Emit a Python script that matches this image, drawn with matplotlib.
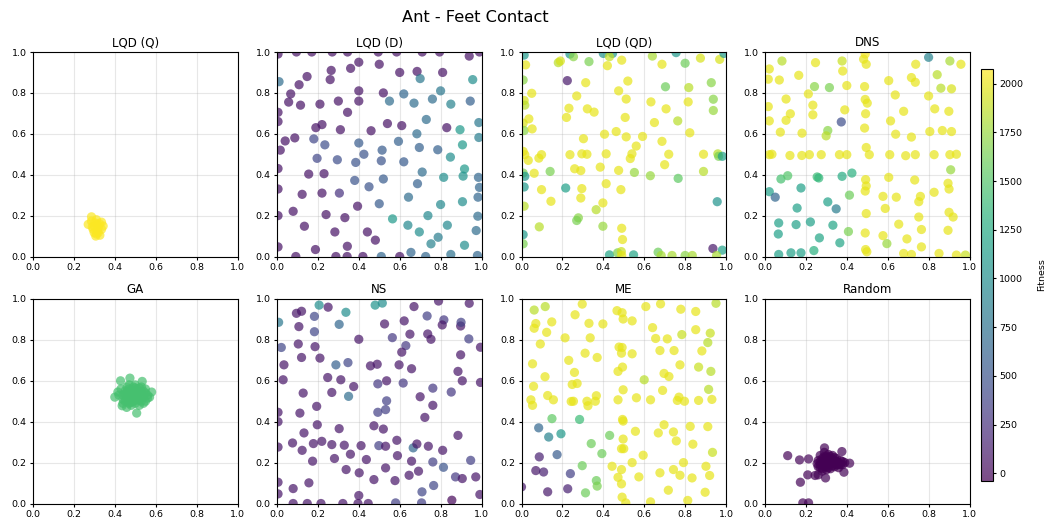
import numpy as np
import matplotlib
matplotlib.use('Agg')
import matplotlib.pyplot as plt
from matplotlib.colors import Normalize

# ── Data: (x, y, fitness) per method ─────────────────────────────────
lqd_q = [(.286, .194, 2060), (.31, .18, 2060), (.335, .168, 2060), (.27, .157, 2060),
         (.294, .133, 2060), (.319, .117, 2060), (.307, .10, 2060), (.327, .104, 2060),
         (.343, .149, 2060), (.302, .165, 2060), (.319, .141, 2060), (.299, .117, 2060),
         (.286, .173, 2060), (.335, .133, 2060), (.314, .157, 2060), (.30, .15, 2060),
         (.315, .125, 2060), (.29, .145, 2060), (.325, .16, 2060), (.31, .11, 2060)]

lqd_d = [(.005, .99, 60), (.095, 1.0, 60), (.17, 1.0, 60), (.27, 1.0, 60), (.345, 1.0, 60),
         (.495, 1.0, 60), (.585, 1.0, 60), (.71, 1.0, 60), (.795, 1.0, 60), (.94, .98, 60),
         (.99, 1.0, 60), (.40, .95, 60), (.50, .94, 60), (.36, .92, 60), (.265, .91, 60),
         (.60, .90, 60), (.685, .905, 60), (.81, .90, 60), (.01, .855, 700), (.147, .88, 60),
         (.26, .865, 60), (.70, .87, 800), (.957, .865, 1000), (.108, .84, 60), (.40, .81, 60),
         (.52, .80, 60), (.62, .795, 650), (.80, .81, 800), (.067, .795, 60), (.057, .755, 60),
         (.115, .74, 60), (.21, .745, 60), (.30, .76, 60), (.40, .76, 60), (.55, .76, 700),
         (.67, .75, 700), (.76, .77, 700), (.85, .745, 900), (.945, .76, 600), (.005, .705, 60),
         (.345, .705, 60), (.005, .66, 60), (.73, .67, 700), (.987, .655, 800), (.19, .63, 60),
         (.22, .645, 60), (.31, .62, 60), (.46, .615, 60), (.54, .65, 60), (.61, .64, 60),
         (.83, .63, 60), (.895, .62, 1100), (.04, .565, 60), (.087, .58, 60), (.18, .575, 400),
         (.016, .52, 60), (.234, .546, 450), (.40, .555, 550), (.594, .563, 600), (.684, .60, 700),
         (.987, .582, 850), (.425, .50, 500), (.514, .52, 550), (.696, .533, 600), (.786, .522, 600),
         (.907, .546, 1100), (.848, .486, 1000), (.196, .48, 400), (.295, .473, 450), (.385, .46, 500),
         (.51, .468, 500), (.62, .463, 550), (.005, .43, 60), (.155, .403, 60), (.23, .405, 60),
         (.917, .428, 1100), (.71, .413, 700), (.815, .387, 1000), (.91, .393, 1050), (.985, .387, 650),
         (.005, .33, 60), (.123, .304, 60), (.22, .31, 60), (.305, .31, 250), (.38, .372, 500),
         (.45, .341, 500), (.52, .379, 550), (.687, .356, 600), (.99, .338, 650), (.643, .29, 700),
         (.907, .268, 1000), (.983, .29, 650), (.394, .246, 60), (.50, .258, 550), (.80, .254, 950),
         (.079, .221, 60), (.24, .205, 60), (.332, .19, 60), (.565, .184, 1100), (.738, .20, 950),
         (.982, .197, 700), (.005, .20, 60), (.134, .148, 60), (.283, .12, 60), (.442, .12, 60),
         (.64, .153, 950), (.696, .12, 1000), (.833, .153, 950), (.974, .127, 700), (.481, .08, 60),
         (.344, .05, 60), (.005, .047, 60), (.188, .034, 60), (.753, .062, 900), (.788, .094, 850),
         (.917, .055, 1000), (.092, 0.0, 60), (.288, 0.0, 60), (.343, 0.0, 60), (.42, 0.0, 60),
         (.51, 0.0, 650), (.60, 0.0, 60), (.655, .02, 650), (.727, 0.0, 650), (.85, .01, 750),
         (.98, .005, 650)]

lqd_qd = [(.013, .985, 1100), (.237, .99, 1100), (.254, .977, 1700), (.40, .993, 1050),
          (.445, .993, 1100), (.43, .977, 1900), (.02, .937, 2000), (.18, .948, 1850),
          (.19, .956, 1950), (.33, .953, 1650), (.42, .933, 2000), (.49, .96, 2000),
          (.64, .98, 1800), (.687, .94, 2000), (.756, .997, 1100), (.80, .945, 1600),
          (.875, .97, 1950), (.969, .964, 1950), (.99, .993, 1100), (.008, .863, 1700),
          (.224, .86, 100), (.314, .85, 2000), (.52, .858, 2000), (.475, .81, 2000),
          (.704, .83, 1600), (.818, .826, 1850), (.928, .85, 1700), (.05, .798, 2000),
          (.013, .763, 1950), (.016, .74, 1850), (.27, .785, 2000), (.512, .77, 2000),
          (.633, .756, 2000), (.815, .756, 2000), (.938, .769, 1700), (.938, .714, 1750),
          (.232, .725, 2000), (.322, .722, 2000), (.355, .706, 2000), (.707, .722, 2000),
          (.036, .673, 2000), (.22, .68, 2000), (.507, .68, 2000), (.65, .655, 2000),
          (.764, .663, 1850), (.008, .652, 1950), (.013, .616, 1700), (.052, .624, 2000),
          (.406, .598, 2000), (.463, .611, 2000), (.512, .585, 2000), (.592, .587, 2000),
          (.823, .605, 2000), (.303, .576, 2000), (.687, .563, 2000), (.561, .54, 2000),
          (.008, .514, 2000), (.016, .498, 2000), (.033, .47, 2000), (.085, .481, 2000),
          (.098, .498, 2000), (.237, .498, 2000), (.295, .502, 2000), (.32, .50, 2000),
          (.414, .502, 2000), (.54, .502, 2000), (.532, .479, 2000), (.72, .50, 2000),
          (.89, .50, 2000), (.96, .502, 1850), (.964, .49, 1650), (.982, .49, 1150),
          (.70, .449, 2000), (.385, .437, 2000), (.26, .429, 2000), (.29, .42, 2000),
          (.475, .421, 2000), (.062, .407, 2000), (.14, .416, 1650), (.008, .408, 1650),
          (.016, .392, 1100), (.552, .411, 1750), (.63, .395, 1750), (.766, .382, 1550),
          (.89, .416, 1850), (.013, .34, 1100), (.098, .327, 2000), (.216, .335, 1150),
          (.414, .356, 2000), (.295, .332, 2000), (.486, .327, 2000), (.29, .286, 2000),
          (.144, .27, 2000), (.398, .262, 2000), (.013, .246, 1850), (.365, .229, 1850),
          (.957, .268, 1050), (.278, .189, 1700), (.27, .176, 1650), (.087, .145, 1850),
          (.398, .148, 1750), (.49, .138, 2000), (.494, .083, 2000), (.008, .107, 1100),
          (.008, .062, 1650), (.43, .008, 1200), (.47, .018, 1650), (.488, .024, 1900),
          (.49, .005, 2000), (.548, .008, 1200), (.668, .021, 1600), (.683, .005, 1800),
          (.736, .005, 1800), (.80, .005, 1700), (.835, .005, 1800), (.936, .039, 100),
          (.982, .031, 1150), (.954, .005, 1800)]

dns = [(.49, .99, 2050), (.482, .965, 2000), (.495, .94, 2000), (.80, .974, 900),
       (.083, .956, 1850), (.247, .948, 2000), (.377, .956, 1900), (.737, .94, 2000),
       (.904, .956, 1800), (.958, .94, 2000), (.021, .917, 2000), (.38, .907, 2000),
       (.165, .886, 2000), (.842, .889, 1850), (.016, .867, 2000), (.07, .863, 2000),
       (.716, .875, 2000), (.735, .852, 2000), (.605, .86, 2000), (.242, .831, 1700),
       (.315, .826, 1650), (.40, .836, 2000), (.487, .831, 2000), (.86, .823, 1850),
       (.912, .82, 1950), (.212, .795, 2000), (.103, .77, 2000), (.49, .768, 2000),
       (.50, .75, 2000), (.637, .79, 2000), (.80, .785, 2000), (.016, .733, 2000),
       (.234, .74, 2000), (.124, .698, 2000), (.234, .693, 2000), (.39, .717, 2000),
       (.492, .698, 2000), (.678, .71, 2000), (.83, .722, 2000), (.899, .71, 2000),
       (.021, .663, 2000), (.103, .666, 2000), (.373, .658, 450), (.487, .628, 2000),
       (.614, .663, 2000), (.307, .616, 1700), (.075, .608, 2000), (.181, .603, 2000),
       (.299, .59, 1850), (.639, .598, 2000), (.716, .584, 2000), (.806, .611, 2000),
       (.867, .616, 2000), (.912, .611, 2000), (.495, .533, 2000), (.021, .498, 2000),
       (.034, .50, 2000), (.122, .494, 2000), (.18, .494, 2000), (.217, .498, 2000),
       (.275, .498, 2000), (.364, .498, 2000), (.40, .498, 2000), (.51, .498, 2000),
       (.61, .498, 2000), (.688, .493, 2000), (.735, .498, 2000), (.827, .498, 2000),
       (.904, .498, 2000), (.936, .50, 2000), (.908, .424, 1750), (.078, .379, 1450),
       (.111, .395, 1500), (.255, .389, 1400), (.263, .384, 1350), (.377, .392, 1250),
       (.425, .408, 1300), (.492, .376, 2000), (.605, .387, 2000), (.495, .345, 2000),
       (.49, .32, 2000), (.732, .374, 2000), (.895, .358, 2000), (.90, .33, 2000),
       (.021, .317, 1150), (.05, .29, 650), (.176, .335, 1150), (.413, .30, 1600),
       (.577, .294, 2000), (.642, .29, 2000), (.76, .294, 2000), (.752, .268, 2000),
       (.827, .314, 2000), (.157, .237, 1150), (.307, .267, 1150), (.348, .233, 850),
       (.588, .235, 2000), (.495, .21, 2000), (.752, .193, 2000), (.90, .216, 2000),
       (.92, .193, 2000), (.067, .164, 1150), (.222, .169, 1150), (.152, .156, 1150),
       (.332, .153, 1200), (.654, .158, 2000), (.065, .11, 1150), (.266, .091, 1200),
       (.408, .122, 1650), (.49, .115, 2000), (.577, .102, 2000), (.596, .063, 1750),
       (.694, .086, 2000), (.765, .132, 2000), (.895, .128, 2000), (.765, .047, 2000),
       (.366, .067, 1200), (.067, .01, 1150), (.127, .018, 1150), (.176, .018, 1150),
       (.239, .029, 1300), (.492, .034, 2000), (.498, .023, 2000), (.678, .015, 2000),
       (.716, .01, 2000), (.851, .015, 2000), (.936, .007, 2000), (.98, .007, 1900)]

ga = [(.428, .60, 1450), (.474, .613, 1450), (.534, .597, 1450), (.58, .545, 1450),
      (.40, .52, 1450), (.507, .442, 1450), (.436, .478, 1450), (.458, .47, 1450),
      (.57, .52, 1450), (.415, .545, 1450), (.45, .55, 1450), (.47, .56, 1450),
      (.49, .57, 1450), (.51, .56, 1450), (.53, .55, 1450), (.55, .54, 1450),
      (.44, .53, 1450), (.46, .52, 1450), (.48, .53, 1450), (.50, .54, 1450),
      (.52, .53, 1450), (.54, .52, 1450), (.56, .53, 1450), (.45, .50, 1450),
      (.47, .49, 1450), (.49, .50, 1450), (.51, .51, 1450), (.53, .50, 1450),
      (.55, .50, 1450), (.48, .48, 1450), (.50, .49, 1450), (.52, .48, 1450),
      (.46, .57, 1450), (.50, .58, 1450), (.53, .57, 1450), (.43, .56, 1450),
      (.44, .51, 1450), (.49, .55, 1450), (.47, .54, 1450), (.51, .53, 1450),
      (.55, .56, 1450), (.42, .53, 1450), (.48, .51, 1450), (.54, .49, 1450),
      (.50, .52, 1450), (.46, .545, 1450), (.52, .565, 1450), (.47, .525, 1450),
      (.49, .535, 1450), (.51, .545, 1450), (.53, .535, 1450), (.48, .555, 1450),
      (.50, .565, 1450), (.46, .505, 1450), (.52, .505, 1450), (.45, .535, 1450),
      (.54, .55, 1450), (.48, .495, 1450), (.50, .505, 1450), (.44, .49, 1450),
      (.56, .515, 1450), (.47, .58, 1450)]

ns = [(.79, .99, 80), (.206, .97, 1000), (.25, .96, 80), (.48, .97, 1050), (.515, .98, 1000),
      (.67, .963, 80), (.94, .979, 80), (.095, .93, 80), (.12, .94, 80), (.183, .915, 400),
      (.337, .935, 1000), (.008, .886, 800), (.107, .865, 80), (.304, .876, 650), (.526, .878, 80),
      (.622, .893, 80), (.734, .917, 350), (.816, .898, 300), (.808, .873, 80), (.898, .868, 80),
      (.90, .886, 350), (.183, .84, 400), (.65, .828, 80), (.737, .829, 80), (.753, .803, 80),
      (.40, .803, 80), (.564, .811, 300), (.938, .805, 350), (.104, .78, 80), (.186, .767, 80),
      (.021, .763, 400), (.63, .772, 300), (.61, .74, 80), (.995, .764, 80), (.12, .714, 80),
      (.21, .711, 80), (.898, .727, 80), (.034, .678, 80), (.288, .678, 600), (.347, .689, 400),
      (.457, .673, 80), (.49, .681, 80), (.597, .678, 80), (.658, .659, 80), (.885, .646, 80),
      (.03, .605, 80), (.248, .616, 80), (.312, .605, 80), (.375, .572, 80), (.268, .543, 80),
      (.128, .54, 80), (.493, .585, 300), (.536, .60, 80), (.617, .589, 300), (.762, .564, 300),
      (.852, .545, 300), (.906, .60, 80), (.995, .592, 80), (.35, .524, 700), (.70, .522, 80),
      (.536, .502, 350), (.194, .475, 80), (.762, .48, 80), (.005, .446, 80), (.112, .442, 80),
      (.493, .446, 350), (.531, .459, 350), (.723, .421, 80), (.005, .40, 80), (.197, .385, 80),
      (.304, .366, 80), (.474, .38, 80), (.52, .364, 80), (.132, .345, 80), (.586, .309, 80),
      (.885, .333, 80), (.076, .296, 80), (.178, .293, 80), (.219, .304, 80), (.268, .288, 80),
      (.329, .285, 80), (.411, .283, 80), (.498, .283, 350), (.531, .28, 80), (.666, .272, 650),
      (.684, .291, 80), (.74, .28, 80), (.81, .26, 80), (.005, .276, 80), (.123, .26, 80),
      (.359, .241, 80), (.281, .22, 80), (.437, .215, 80), (.589, .234, 80), (.174, .207, 80),
      (.658, .207, 80), (.762, .203, 350), (.947, .211, 350), (.338, .166, 80), (.402, .15, 80),
      (.531, .174, 80), (.692, .158, 80), (.646, .138, 80), (.814, .177, 500), (.873, .13, 300),
      (.906, .122, 80), (.972, .13, 80), (.005, .104, 80), (.156, .101, 80), (.474, .117, 80),
      (.577, .112, 80), (.079, .073, 80), (.766, .088, 400), (.709, .057, 400), (.005, .047, 80),
      (.40, .039, 80), (.992, .044, 80), (.855, .016, 0), (.079, 0.0, 80), (.148, 0.0, 80),
      (.215, 0.0, 80), (.322, 0.0, 80), (.396, 0.0, 80), (.446, 0.0, 80), (.58, .003, 350),
      (.707, .003, 350)]

me = [(.062, .946, 1850), (.116, .963, 1850), (.297, .975, 2000), (.262, .923, 2000),
      (.467, .943, 2000), (.492, .933, 2000), (.497, .902, 2000), (.541, .893, 2000),
      (.608, .963, 2000), (.68, .976, 2000), (.779, .95, 2000), (.852, .939, 2000),
      (.951, .979, 1850), (.07, .88, 2000), (.062, .857, 2000), (.148, .888, 2000),
      (.123, .837, 2000), (.33, .881, 2000), (.398, .878, 2000), (.336, .81, 2000),
      (.213, .81, 2000), (.641, .86, 2000), (.656, .807, 2000), (.713, .805, 2000),
      (.784, .826, 1900), (.852, .85, 2000), (.923, .833, 1900), (.092, .78, 2000),
      (.477, .765, 2000), (.492, .763, 2000), (.489, .735, 2000), (.541, .732, 2000),
      (.311, .735, 2000), (.37, .714, 2000), (.231, .70, 2000), (.677, .748, 2000),
      (.746, .748, 2000), (.882, .746, 2000), (.911, .787, 1850), (.054, .683, 2000),
      (.259, .641, 2000), (.472, .646, 2000), (.494, .667, 2000), (.775, .678, 2000),
      (.866, .667, 1900), (.926, .646, 1850), (.115, .62, 2000), (.60, .605, 1850),
      (.697, .636, 2000), (.721, .621, 2000), (.059, .573, 2000), (.248, .582, 2000),
      (.272, .587, 2000), (.497, .556, 2000), (.69, .553, 2000), (.915, .558, 1850),
      (.046, .507, 2000), (.054, .48, 2000), (.128, .528, 2000), (.156, .507, 2000),
      (.243, .499, 2000), (.254, .50, 2000), (.32, .50, 2000), (.325, .478, 2000),
      (.366, .527, 2000), (.361, .50, 2000), (.472, .507, 2000), (.562, .517, 2000),
      (.631, .507, 2000), (.762, .504, 2000), (.77, .52, 2000), (.797, .50, 2000),
      (.866, .504, 2000), (.931, .509, 2000), (.149, .415, 1550), (.284, .411, 1400),
      (.494, .411, 2000), (.497, .403, 2000), (.697, .385, 2000), (.825, .377, 2000),
      (.911, .376, 2000), (.084, .37, 650), (.133, .325, 900), (.193, .341, 1100),
      (.431, .333, 1600), (.497, .315, 2000), (.557, .353, 2000), (.669, .345, 2000),
      (.743, .35, 2000), (.757, .306, 2000), (.838, .29, 2000), (.341, .293, 1600),
      (.489, .268, 2000), (.50, .268, 2000), (.087, .228, 150), (.174, .239, 550),
      (.393, .244, 1600), (.595, .236, 2000), (.934, .25, 1900), (.297, .185, 1600),
      (.443, .182, 2000), (.541, .20, 2000), (.489, .166, 2000), (.743, .166, 2000),
      (.792, .20, 2000), (.902, .182, 2000), (.07, .161, 100), (.108, .154, 150),
      (.239, .146, 350), (.366, .112, 1600), (.37, .085, 1650), (.472, .128, 2000),
      (.574, .13, 2000), (.677, .15, 2000), (.775, .138, 2000), (.834, .125, 2000),
      (.92, .137, 2000), (.489, .096, 2000), (0.0, .081, 100), (.128, .057, 100),
      (.226, .072, 150), (.313, .052, 1600), (.718, .065, 2000), (.898, .055, 2000),
      (.492, .031, 2000), (.51, .003, 2000), (.631, .008, 2000), (.813, .015, 2000)]

random_ = [(.111, .234, -20), (.169, .213, -20), (.213, .218, -20), (.291, .272, -20),
           (.376, .254, -20), (.414, .197, -20), (.386, .153, -20), (.209, .14, -20),
           (.245, .137, -20), (.296, .125, -20), (.173, .104, -20), (.185, .003, -20),
           (.213, .003, -20), (.28, .158, -20), (.26, .14, -20), (.29, .25, -20),
           (.27, .235, -20), (.26, .21, -40), (.28, .22, -40), (.30, .23, -40),
           (.32, .22, -40), (.34, .21, -40), (.36, .20, -40), (.38, .205, -40),
           (.27, .19, -40), (.29, .20, -40), (.31, .21, -40), (.33, .20, -40),
           (.35, .19, -40), (.37, .19, -40), (.26, .18, -40), (.28, .17, -40),
           (.30, .18, -40), (.32, .17, -40), (.34, .18, -40), (.36, .175, -40),
           (.29, .23, -40), (.31, .24, -40), (.33, .235, -40), (.30, .20, -40),
           (.32, .195, -40), (.28, .205, -40), (.34, .225, -40), (.255, .195, -40),
           (.39, .20, -40), (.30, .165, -40), (.27, .175, -40), (.29, .185, -40),
           (.31, .19, -40), (.33, .185, -40), (.35, .205, -40), (.37, .21, -40),
           (.30, .215, -40), (.32, .205, -40), (.34, .195, -40), (.36, .19, -40),
           (.28, .195, -40), (.31, .175, -40), (.33, .215, -40), (.35, .22, -40),
           (.29, .215, -40), (.27, .205, -40), (.38, .19, -40), (.32, .23, -40)]

titles = ['LQD (Q)', 'LQD (D)', 'LQD (QD)', 'DNS', 'GA', 'NS', 'ME', 'Random']
panels = [lqd_q, lqd_d, lqd_qd, dns, ga, ns, me, random_]
cbar_ticks = [0, 250, 500, 750, 1000, 1250, 1500, 1750, 2000]

# shared colour scale
fit_min, fit_max = -40, 2075
norm = Normalize(vmin=fit_min, vmax=fit_max)

# ── Layout ───────────────────────────────────────────────────
W, H = 1053, 531
fig = plt.figure(figsize=(W / 100, H / 100), dpi=100)
lefts = [33, 277, 521.5, 765]
tops = [52, 299]
size = 204.5

sc = None
for i, (name, pts) in enumerate(zip(titles, panels)):
    r, c = divmod(i, 4)
    ax = fig.add_axes([lefts[c] / W, (H - tops[r] - size) / H, size / W, size / H])
    arr = np.array(pts)
    sc = ax.scatter(arr[:, 0], arr[:, 1], c=arr[:, 2], cmap='viridis', norm=norm,
                    s=44, alpha=0.7, linewidths=0)
    ax.set_xlim(0, 1)
    ax.set_ylim(0, 1)
    ax.set_xticks(np.arange(0, 1.01, 0.2))
    ax.set_yticks(np.arange(0, 1.01, 0.2))
    ax.grid(True, color='#b0b0b0', alpha=0.3, linewidth=0.8)
    ax.set_axisbelow(True)
    ax.tick_params(labelsize=6.8, length=2.5, pad=2)
    ax.set_title(name, fontsize=8.6, pad=4)

cax = fig.add_axes([981 / W, (H - 481) / H, 12 / W, 412 / H])
cbar = fig.colorbar(sc, cax=cax, ticks=cbar_ticks)
cbar.ax.tick_params(labelsize=6.8, length=2.5, pad=2)
cbar.set_label('Fitness', fontsize=6.8, labelpad=10)

fig.text(475 / W, 1 - 17 / H, 'Ant - Feet Contact', ha='center', va='center', fontsize=11.7)

plt.savefig('out.png', dpi=100)
